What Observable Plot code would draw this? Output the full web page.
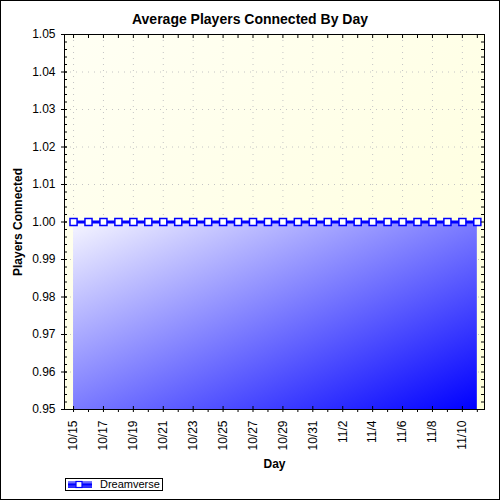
<!DOCTYPE html>
<html>
<head>
<meta charset="utf-8">
<script src="https://cdn.jsdelivr.net/npm/d3@7"></script>
<script src="https://cdn.jsdelivr.net/npm/@observablehq/plot@0.6"></script>
<style>
  body { margin: 0; background: #fff; }
  #box { position: relative; width: 498px; height: 498px; border: 1px solid #000; background: #fff;
         font-family: "Liberation Sans", Arial, sans-serif; }
  #title { position: absolute; top: 10px; left: 0; width: 100%; text-align: center;
           font-weight: bold; font-size: 14px; line-height: 16px; }
  #plot { position: absolute; top: 27px; left: 0; }
  #plot g[aria-label="x-axis label"], #plot g[aria-label="y-axis label"] { font-weight: bold; }
  #legend { position: absolute; left: 64px; top: 477px; width: 96px; height: 11px; border: 1px solid #000;
            font-size: 11px; line-height: 11px; white-space: nowrap; }
  #legend svg { position: absolute; left: 0; top: 0; }
  #legend span { position: absolute; left: 34px; top: 0; }
</style>
</head>
<body>
<div id="box">
  <div id="title">Average Players Connected By Day</div>
  <div id="plot"></div>
  <div id="legend">
    <svg width="30" height="11">
      <rect x="2" y="2" width="24" height="7" fill="url(#legGrad)"></rect>
      <line x1="2" x2="26" y1="5.5" y2="5.5" stroke="#0000ff" stroke-width="2"></line>
      <rect x="10" y="2.5" width="6" height="6" fill="#fff" stroke="#0000ff" stroke-width="1.2"></rect>
      <defs>
        <linearGradient id="legGrad" x1="0" y1="0" x2="0" y2="1">
          <stop offset="0" stop-color="#8080ff"></stop>
          <stop offset="1" stop-color="#2020ff"></stop>
        </linearGradient>
      </defs>
    </svg>
    <span>Dreamverse</span>
  </div>
</div>
<script>
// daily averages, 10/15 - 11/11
const days = ["10/15", "10/16", "10/17", "10/18", "10/19", "10/20", "10/21", "10/22", "10/23", "10/24",
  "10/25", "10/26", "10/27", "10/28", "10/29", "10/30", "10/31", "11/1", "11/2", "11/3",
  "11/4", "11/5", "11/6", "11/7", "11/8", "11/9", "11/10", "11/11"];
const players = [1, 1, 1, 1, 1, 1, 1, 1, 1, 1,
  1, 1, 1, 1, 1, 1, 1, 1, 1, 1,
  1, 1, 1, 1, 1, 1, 1, 1];
const yLabels = [0.95, 0.96, 0.97, 0.98, 0.99, 1.00, 1.01, 1.02, 1.03, 1.04, 1.05];

const parseDay = d3.utcParse("%Y/%m/%d");
const data = days.map((s, i) => ({date: parseDay("2008/" + s), value: players[i]}));
const dates = data.map(d => d.date);
const xMajor = dates.filter((d, i) => i % 2 === 0);
const xMinor = dates.filter((d, i) => i % 2 === 1);
const yMin = yLabels[0], yMax = yLabels[yLabels.length - 1];
const yMinor = d3.range(0, 51).map(i => yMin + i * 0.002);
const fmtDay = d => `${d.getUTCMonth() + 1}/${d.getUTCDate()}`;
const blank = () => "";

const chart = Plot.plot({
  width: 498,
  height: 444,
  marginLeft: 63,
  marginRight: 15,
  marginTop: 6,
  marginBottom: 63,
  style: {fontFamily: "'Liberation Sans', Arial, sans-serif", fontSize: "12px", color: "#000", background: "transparent"},
  x: {type: "utc", domain: [new Date(Date.UTC(2008, 9, 14, 9, 30)), new Date(Date.UTC(2008, 10, 11, 11, 30))]},
  y: {domain: [yMin, yMax]},
  marks: [
    Plot.frame({fill: "url(#bgGrad)"}),
    Plot.gridX(xMajor, {stroke: "#c4c4c4", strokeOpacity: 1, strokeDasharray: "1,5"}),
    Plot.gridY(yLabels, {stroke: "#c4c4c4", strokeOpacity: 1, strokeDasharray: "1,5"}),
    Plot.areaY(data, {x: "date", y1: yMin, y2: "value", fill: "url(#blueGrad)"}),
    Plot.lineY(data, {x: "date", y: "value", stroke: "#0000ff", strokeWidth: 3}),
    Plot.dot(data, {x: "date", y: "value", symbol: "square", r: 4, fill: "#fff", stroke: "#0000ff", strokeWidth: 1.5}),
    Plot.frame({stroke: "#000"}),
    // left axis
    Plot.axisY(yLabels, {tickSize: 0, tickPadding: 9, tickFormat: ".2f",
      label: "Players Connected", labelAnchor: "center", labelOffset: 51, labelArrow: "none"}),
    Plot.axisY(yLabels, {tickSize: 6, dx: 3, tickFormat: blank, label: null}),
    Plot.axisY(yMinor, {tickSize: 3, dx: 3, tickFormat: blank, label: null}),
    // right axis
    Plot.axisY(yMinor, {anchor: "right", tickSize: 4, dx: -4, tickFormat: blank, label: null}),
    // top axis
    Plot.axisX(dates, {anchor: "top", tickSize: 3, dy: 3, tickFormat: blank, label: null}),
    // bottom axis
    Plot.axisX(xMajor, {tickSize: 0, tickPadding: 11, tickRotate: -90, tickFormat: fmtDay,
      label: "Day", labelAnchor: "center", labelOffset: 58, labelArrow: "none"}),
    Plot.axisX(xMajor, {tickSize: 6, dy: -3, tickFormat: blank, label: null}),
    Plot.axisX(xMinor, {tickSize: 3, tickFormat: blank, label: null})
  ]
});

const defs = d3.select(chart).append("defs");
const bg = defs.append("linearGradient").attr("id", "bgGrad")
  .attr("x1", 0).attr("y1", 0).attr("x2", 1).attr("y2", 1);
bg.append("stop").attr("offset", 0).attr("stop-color", "#fffff4");
bg.append("stop").attr("offset", 1).attr("stop-color", "#ffffda");
const bl = defs.append("linearGradient").attr("id", "blueGrad")
  .attr("x1", 0).attr("y1", 0).attr("x2", 1).attr("y2", 1);
bl.append("stop").attr("offset", 0).attr("stop-color", "#f6f6ff");
bl.append("stop").attr("offset", 1).attr("stop-color", "#0000ff");

document.getElementById("plot").append(chart);
</script>
</body>
</html>
